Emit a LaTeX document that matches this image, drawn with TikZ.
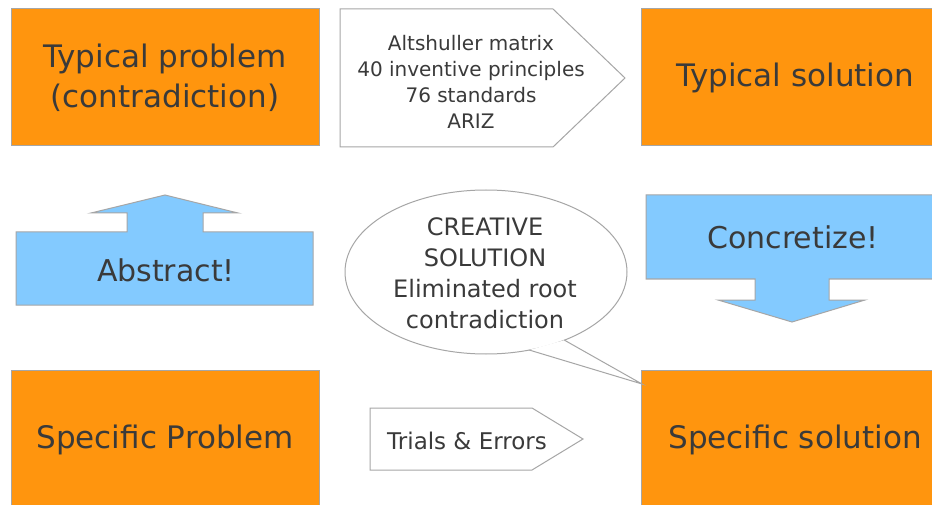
\documentclass[tikz,border=0pt]{standalone}
\usepackage{fontspec}
\setmainfont{DejaVu Sans}
\usetikzlibrary{shapes.geometric,calc}
\definecolor{orng}{HTML}{FF950E}
\definecolor{skyb}{HTML}{83CAFF}
\definecolor{txt}{HTML}{3A3A3A}
\definecolor{edge}{HTML}{A6A6A6}
\begin{document}
\begin{tikzpicture}[x=1pt,y=-1pt,
  box/.style={draw=edge, fill=orng, line width=1pt, minimum width=308pt, minimum height=137pt, inner sep=0pt, text=txt, align=center, font=\fontsize{31}{40}\selectfont},
  pent/.style={draw=edge, fill=white, line width=1pt},
  blue/.style={draw=edge, fill=skyb, line width=1pt},
  lbl/.style={inner sep=0pt, text=txt, align=center},
  bub/.style={ellipse, draw=edge, fill=white, line width=1pt, minimum width=282pt, minimum height=164pt, inner sep=0pt, outer sep=0pt}]
\clip (0,0) rectangle (932,505);
\fill[white] (0,0) rectangle (932,505);
% boxes
\node[box] (tp) at (165,77.5) {Typical problem\\(contradiction)};
\node[box] (ts) at (795,77.5) {Typical solution};
\node[box, minimum height=140pt] (sp) at (165,440) {Specific Problem};
\node[box, minimum height=140pt] (ss) at (795,440) {Specific solution};
% top pentagon arrow
\draw[pent] (340,9) -- (553,9) -- (625,78) -- (553,147) -- (340,147) -- cycle;
\node[lbl, font=\fontsize{20}{26}\selectfont] (tools) at (471,82) {Altshuller matrix\\40 inventive principles\\76 standards\\ARIZ};
% bottom pentagon arrow
\draw[pent] (370,408) -- (532,408) -- (583,439) -- (532,470) -- (370,470) -- cycle;
\node[lbl, font=\fontsize{23}{28}\selectfont] (trials) at (467,441) {Trials \& Errors};
% abstract arrow
\draw[blue] (16,232) -- (127,232) -- (127,213) -- (91,213) -- (165,195) -- (238,213) -- (203,213) -- (203,232) -- (313,232) -- (313,305) -- (16,305) -- cycle;
\node[lbl, font=\fontsize{30}{36}\selectfont] (abs) at (166,270) {Abstract!};
% concretize arrow
\draw[blue] (646,195) -- (950,195) -- (950,279) -- (829,279) -- (829,300) -- (865,300) -- (792,322) -- (718,300) -- (755,300) -- (755,279) -- (646,279) -- cycle;
\node[lbl, font=\fontsize{30}{36}\selectfont] (conc) at (793,237) {Concretize!};
% callout
\node[bub] (bubble) at (486,272) {};
\coordinate (tip) at (642,384);
\fill[white] (bubble.-41.5) -- (tip) -- (bubble.-61) -- cycle;
\draw[edge, line width=1pt, line join=miter] (bubble.-41.5) -- (tip) -- (bubble.-61);
\node[lbl, font=\fontsize{24}{31}\selectfont] (bubtext) at (485,273) {CREATIVE\\SOLUTION\\Eliminated root\\contradiction};
\end{tikzpicture}
\end{document}
